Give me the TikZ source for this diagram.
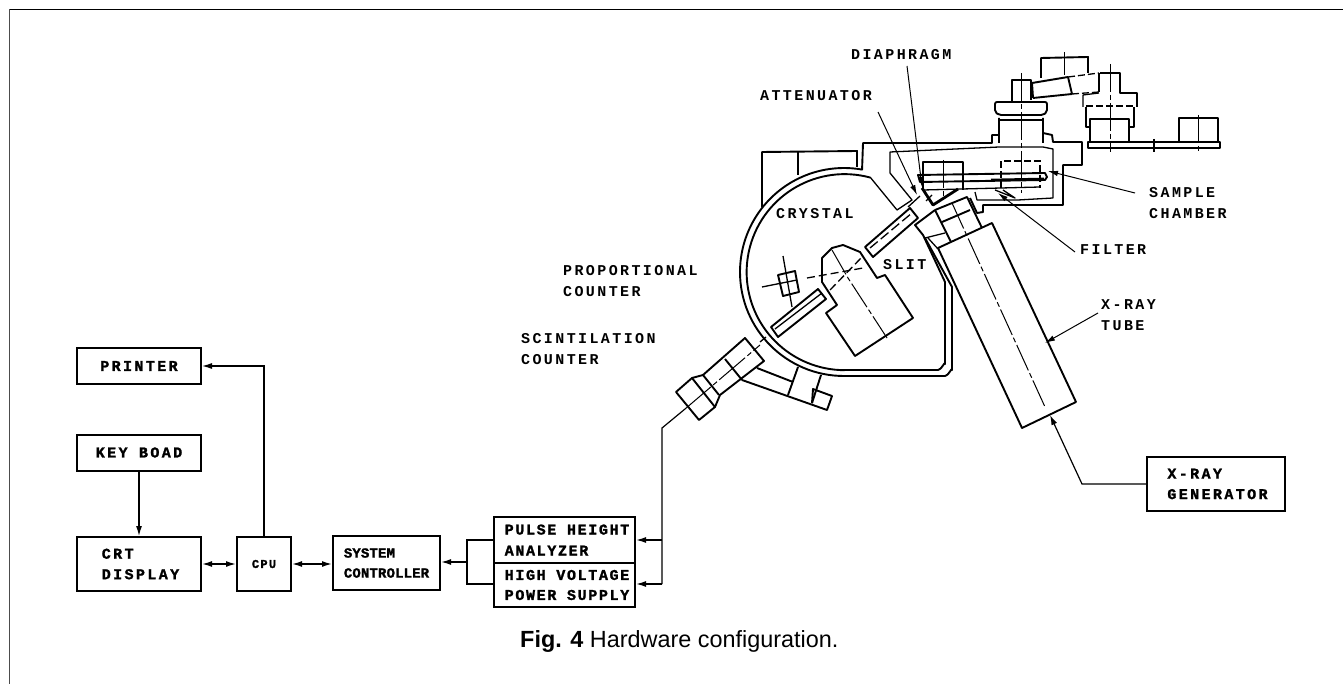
\documentclass[tikz,border=0pt]{standalone}
\usepackage{fontspec}
\setmainfont{Liberation Sans}
\newfontfamily\lbfont[LetterSpace=16]{Liberation Mono}
\newfontfamily\blkfont[LetterSpace=16,BoldFeatures={FakeBold=1.5}]{Liberation Mono}
\newfontfamily\anfont[LetterSpace=11,BoldFeatures={FakeBold=1.5}]{Liberation Mono}
\newfontfamily\sysfont[LetterSpace=1,BoldFeatures={FakeBold=1.5}]{Liberation Mono}
\usetikzlibrary{arrows.meta}
\tikzset{
 blk/.style={draw=black,line width=2pt,inner sep=0pt,fill=white,font=\blkfont\fontsize{15}{20.5}\selectfont\bfseries,align=left},
 lab/.style={inner sep=0pt,anchor=west,font=\lbfont\fontsize{15}{21}\selectfont\bfseries,align=left},
 arr/.style={line width=1.2pt,-{Latex[length=10pt,width=6pt]}},
 darr/.style={line width=1.5pt,{Latex[length=10pt,width=6pt]}-{Latex[length=10pt,width=6pt]}},
 harr/.style={line width=1.5pt,-{Latex[length=10pt,width=6pt]}},
 parr/.style={line width=1pt,-{Latex[length=10pt,width=5.5pt]}},
 wire/.style={line width=1.2pt},
 thickm/.style={line width=1.9pt,line join=round},
 thinm/.style={line width=1.3pt,line join=round},
 ax/.style={line width=1pt,dash pattern=on 28pt off 3pt on 5pt off 3pt},
 dsh/.style={line width=1.3pt,dash pattern=on 7pt off 3pt},
}
\begin{document}
\begin{tikzpicture}[x=1pt,y=-1pt]
\useasboundingbox (0,0) rectangle (1343,684);
% frame
\draw[line width=1pt,black!70] (9.5,684) -- (9.5,9.5);
\draw[line width=1pt] (9.5,9.5) -- (1343,9.5);
% blocks
\node[blk,minimum width=124pt,minimum height=36pt] (printer) at (139,366) {PRINTER};
\node[blk,minimum width=124pt,minimum height=36pt] (keyboard) at (139,452.5) {KEY BOAD};
\node[blk,minimum width=124pt,minimum height=54pt] (crt) at (139,564) {\hspace*{3pt}CRT\\\hspace*{3pt}DISPLAY};
\node[blk,minimum width=54pt,minimum height=54pt,font=\anfont\fontsize{12}{14}\selectfont\bfseries] (cpu) at (264,564) {CPU};
\node[blk,minimum width=107pt,minimum height=54pt,font=\sysfont\fontsize{14}{20}\selectfont\bfseries] (sys) at (386.5,563) {SYSTEM\\CONTROLLER};
\node[blk,minimum width=141pt,minimum height=46pt,font=\anfont\fontsize{15}{21}\selectfont\bfseries] (pha) at (564.5,540) {\hspace*{5pt}PULSE HEIGHT\\\hspace*{5pt}ANALYZER};
\node[blk,minimum width=141pt,minimum height=44pt,font=\anfont\fontsize{15}{20}\selectfont\bfseries] (hv) at (564.5,585) {\hspace*{5pt}HIGH VOLTAGE\\\hspace*{5pt}POWER SUPPLY};
\node[blk,minimum width=138pt,minimum height=54pt] (gen) at (1216,484) {\hspace*{3pt}X-RAY\\\hspace*{3pt}GENERATOR};
% block connectors
\draw[arr] (keyboard) -- (crt);
\draw[arr] (cpu.north) |- (printer.east);
\draw[darr] (crt) -- (cpu);
\draw[darr] (cpu.east) -- (sys.west |- cpu.east);
\coordinate (brk) at (467,562);
\draw[harr] (brk) -- (sys.east |- brk);
\draw[wire] (pha.west |- 0,540) -- (467,540) -- (467,584) -- (hv.west |- 0,584);
\coordinate (wj) at (662,428);
\coordinate (scend) at (685,409);
\draw[wire] (scend) -- (wj) -- (662,584);
\draw[harr] (662,540) -- (pha.east |- 0,540);
\draw[harr] (662,584) -- (hv.east |- 0,584);
\coordinate (tb) at (1050,415);
\draw[arr] (gen.west) -- (1082,484) -- (tb);
% housing
\draw[thickm] (844,376) arc (90:280:104) -- (863,143) -- (992,143) -- (992,135) -- (999,135) -- (999,118);
\draw[thickm] (870,177.5) arc (285:90:98);
\draw[thickm] (844,376) -- (945,376) to[out=0,in=90] (952,370) -- (952,287) -- (925,238);
\draw[thickm] (844,370) -- (938,370) to[out=0,in=90] (945,364) -- (945,282) -- (923,235) -- (915,225) -- (935,210);
\draw[thickm] (1043,118) -- (1043,133) -- (1052,135) -- (1053,142) -- (1082,142) -- (1082,165) -- (1063,165) -- (1063,205) -- (983,205) -- (983,212) -- (977,213) -- (970,198);
\draw[thinm] (870,177) -- (897,210) -- (912,200) -- (890,173) -- (890,152) -- (999,147) -- (1043,147) -- (1053,149) -- (1053,198) -- (1018,200) -- (977,200) -- (975,192);
\draw[thickm] (762,207) -- (762,152) -- (857,151) -- (857,167);
\draw[thickm] (798,152) -- (798,175);
% sample holder
\draw[thinm] (923,190) -- (923,162) -- (963,162) -- (963,190);
\draw[thinm] (923,190) -- (1040,187);
\draw[dsh] (1001,188) -- (1001,161) -- (1040,161) -- (1040,188);
\draw[thickm] (918,175) -- (1045,173) -- (1047,177) -- (1045,180) -- (920,182) -- cycle;
\draw[line width=2.6pt] (991,180) -- (1044,179);
\draw[ax] (943,160) -- (943,197);
\draw[ax] (1021,73) -- (1021,193);
\draw[line width=2.8pt,line join=round] (922,188) -- (933,205) -- (958,189);
\draw[thinm] (995,190) -- (1015,198) -- (1003,190);
\draw[thinm] (908,207) -- (920,196) (926,201) -- (932,195);
% column
\draw[thickm,rounded corners=2pt] (999,115) -- (995,112) -- (995,102) -- (1047,102) -- (1047,112) -- (1043,115) -- cycle;
\draw[thickm] (999,118) -- (999,143) (1043,118) -- (1043,143);
\draw[thinm] (999,120) -- (1043,120);
\draw[thickm] (1012,101) -- (1012,80) -- (1031,80) -- (1031,100);
% tilted arm
\draw[thickm] (1032,83) -- (1068,77) (1033,98) -- (1072,94) (1032,83) -- (1033,98);
\draw[dsh] (1068,77) -- (1099,73) (1072,94) -- (1099,92);
\draw[thickm] (1068,77) -- (1072,94);
\draw[thickm] (1041,78) -- (1041,58) -- (1088,57) -- (1088,73);
\draw[ax] (1064,52) -- (1064,75);
% dashed assembly
\draw[thinm] (1099,92) -- (1099,73);
\draw[thickm] (1100,73) -- (1120,73) -- (1120,93) -- (1137,93) -- (1137,107);
\draw[thinm] (1099,93) -- (1083,95) -- (1083,107);
\draw[dsh] (1086,106) -- (1134,106);
\draw[thickm] (1086,107) -- (1086,127) -- (1090,127) (1134,107) -- (1134,127) -- (1130,127);
\draw[thickm] (1090,142) -- (1090,119) -- (1129,119) -- (1129,142);
\draw[thinm] (1088,142) -- (1220,142) -- (1220,148) -- (1088,148) -- cycle;
\draw[thickm] (1179,142) -- (1179,118) -- (1218,118) -- (1218,142);
\draw[ax] (1110,64) -- (1110,152);
\draw[thinm] (1154,139) -- (1154,152);
\draw[ax] (1198,115) -- (1198,152);
% crystal mount
\draw[thickm] (822,258) -- (832,248) -- (843,245) -- (860,252) -- (877,278) -- (885,275) -- (913,318) -- (855,356) -- (826,313) -- (837,305) -- (822,282) -- cycle;
\draw[ax] (832,250) -- (848,278) -- (887,338);
\draw[thinm,dash pattern=on 8pt off 4pt] (807,278) -- (863,268);
\draw[thinm,dash pattern=on 8pt off 4pt] (830,290) -- (862,257);
% flat bar lower
\draw[thickm] (771,327) -- (818,289) -- (826,299) -- (778,337) -- cycle;
\draw[thinm] (775,329) -- (822,293);
% proportional counter
\draw[thickm] (778,275) -- (795,271) -- (799,292) -- (783,296) -- cycle;
\draw[thinm] (762,287) -- (797,280) (783,256) -- (792,307);
% upper bar
\draw[thickm] (865,247) -- (910,208) -- (918,218) -- (873,257) -- cycle;
\draw[thinm,dash pattern=on 10pt off 4pt] (870,248) -- (912,213);
% tube head
\draw[thickm] (935,210) -- (967,197) -- (982,228);
\draw[thickm] (935,210) -- (951,242);
\draw[thickm] (942,222) -- (970,210);
\draw[thinm] (925,238) -- (945,233) (928,238) -- (938,249);
% tube
\draw[thickm] (938,248) -- (992,223) -- (1076,402) -- (1022,428) -- cycle;
\draw[ax] (952,203) -- (1045,407);
% scintillation counter
\draw[thickm] (676,392) -- (692,378) -- (703,375) -- (745,338) -- (764,361) -- (720,395) -- (715,407) -- (699,420) -- cycle;
\draw[thickm] (692,378) -- (715,407) (703,375) -- (719,395) (725,359) -- (742,380);
\draw[line width=1pt,dash pattern=on 34pt off 3pt on 5pt off 3pt] (685,409) -- (760,345);
\draw[thinm] (760,342) -- (766,337);
% side unit
\draw[thickm] (757,368) -- (793,382) (742,380) -- (827,410) -- (832,396) -- (813,389) -- (812,403);
\draw[thickm] (798,367) -- (788,395) (821,375) -- (812,403);
% pointers
\coordinate (pd) at (907,66); \coordinate (pa) at (878,112); \coordinate (pf) at (1075,252);
\coordinate (ps) at (1135,193); \coordinate (px) at (1098,313);
\draw[parr] (pd) -- (922,187);
\draw[parr] (pa) -- (917,195);
\draw[parr] (pf) -- (998,193);
\draw[parr] (ps) -- (1048,171);
\draw[parr] (px) -- (1045,343);
% labels
\node[lab] (l1) at (851,55) {DIAPHRAGM};
\node[lab] (l2) at (760,96) {ATTENUATOR};
\node[lab] (l3) at (776,214) {CRYSTAL};
\node[lab] (l4) at (883,265) {SLIT};
\node[lab] (l5) at (1149,203.5) {SAMPLE\\CHAMBER};
\node[lab] (l6) at (1080,250) {FILTER};
\node[lab] (l7) at (1101,315) {X-RAY\\TUBE};
\node[lab] (l8) at (563,281.5) {PROPORTIONAL\\COUNTER};
\node[lab] (l9) at (521,349.5) {SCINTILATION\\COUNTER};
\node[inner sep=0pt,anchor=base west,font=\fontsize{23.4}{28}\selectfont] (cap) at (520,647) {\textbf{Fig. 4} Hardware configuration.};
\end{tikzpicture}
\end{document}
